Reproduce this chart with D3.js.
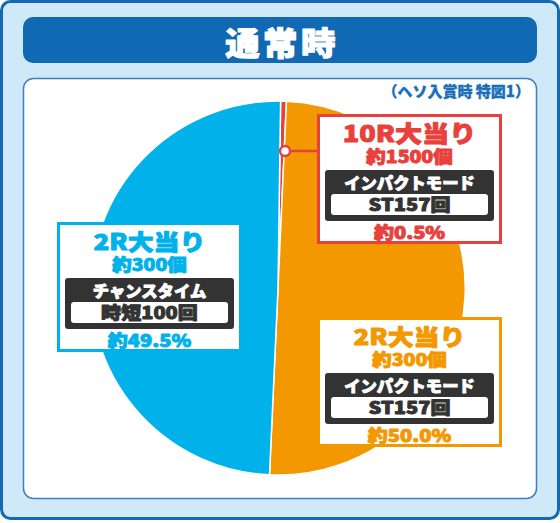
<!DOCTYPE html>
<html>
<head>
<meta charset="utf-8">
<script src="https://cdn.jsdelivr.net/npm/d3@7"></script>
<style>
  body { margin: 0; background: #fff; }
  svg { display: block; }
  text { font-family: "Noto Sans CJK JP", sans-serif; font-weight: 900; paint-order: stroke; stroke-linejoin: round; }
</style>
</head>
<body>
<div id="chart"></div>
<script>
// chart data
const title = "通常時";
const subtitle = "（ヘソ入賞時 特図1）";
const rounds = ["10R大当り", "2R大当り", "2R大当り"];
const balls = ["約1500個", "約300個", "約300個"];
const modes = ["インパクトモード", "インパクトモード", "チャンスタイム"];
const modeSpins = ["ST157回", "ST157回", "時短100回"];
const shares = [0.5, 50.0, 49.5];
const colors = ["#e8413c", "#f39800", "#00b2e9"];

// label box placement (top-left corners), kept apart from the data
const boxSpots = [[317, 114], [317, 317], [57, 222]];

function Chart(container) {
    const width = 560, height = 523;
    const cx = 278, cy = 288, radius = 187;
    const stretch = 1.18;

    const svg = d3.select(container).append("svg")
        .attr("width", width)
        .attr("height", height)
        .attr("viewBox", [0, 0, width, height]);

    // frame
    svg.append("rect")
        .attr("x", 1.5).attr("y", 1.5)
        .attr("width", 557).attr("height", 517)
        .attr("rx", 9)
        .style("fill", "#cfe9f8")
        .style("stroke", "#1668b3")
        .style("stroke-width", 3);

    svg.append("rect")
        .attr("x", 23).attr("y", 17)
        .attr("width", 514).attr("height", 46)
        .attr("rx", 10)
        .style("fill", "#1169b4");

    svg.append("text")
        .attr("transform", "translate(282,55) scale(1.08,1)")
        .style("fill", "white")
        .style("stroke", "white")
        .style("stroke-width", 1)
        .style("text-anchor", "middle")
        .style("font-size", "32px")
        .style("letter-spacing", "3px")
        .text(title);

    svg.append("rect")
        .attr("x", 23.5).attr("y", 78.5)
        .attr("width", 513).attr("height", 420)
        .attr("rx", 10)
        .style("fill", "white")
        .style("stroke", "#3f7ec6")
        .style("stroke-width", 1.5);

    svg.append("text")
        .attr("x", 530).attr("y", 97)
        .style("fill", "#1a6fba")
        .style("stroke", "#1a6fba")
        .style("stroke-width", 0.3)
        .style("text-anchor", "end")
        .style("font-size", "15px")
        .text(subtitle);

    // pie
    const start = 0.014;
    const pie = d3.pie().sort(null).startAngle(start).endAngle(start + 2 * Math.PI);
    const arcs = pie(shares);
    const arc = d3.arc().innerRadius(0).outerRadius(radius);

    const g = svg.append("g").attr("transform", `translate(${cx},${cy})`);
    g.selectAll("path")
        .data(arcs)
        .join("path")
        .attr("d", arc)
        .style("fill", (d, i) => colors[i])
        .style("stroke", "white")
        .style("stroke-width", 1.5);

    // connector for the thin slice
    const pin = d3.arc().innerRadius(137).outerRadius(137).centroid(arcs[0]);
    const px = cx + pin[0] + 3, py = cy + pin[1];
    svg.append("line")
        .attr("x1", px).attr("y1", py)
        .attr("x2", boxSpots[0][0] + 2).attr("y2", py)
        .style("stroke", colors[0])
        .style("stroke-width", 2.5);
    svg.append("circle")
        .attr("cx", px).attr("cy", py)
        .attr("r", 5)
        .style("fill", "white")
        .style("stroke", colors[0])
        .style("stroke-width", 2.5);

    function wideText(parent, x, y, size, color, str, sx) {
        parent.append("text")
            .attr("transform", `translate(${x},${y}) scale(${sx},1)`)
            .style("fill", color)
            .style("stroke", color)
            .style("stroke-width", 0.9)
            .style("text-anchor", "middle")
            .style("font-size", size + "px")
            .text(str);
    }

    // label boxes
    shares.forEach((v, i) => {
        const [bx, by] = boxSpots[i];
        const bw = 185, bh = 130;
        const mid = bx + bw / 2;
        const box = svg.append("g");

        box.append("rect")
            .attr("x", bx + 1.5).attr("y", by + 1.5)
            .attr("width", bw - 3).attr("height", bh - 3)
            .style("fill", "white")
            .style("stroke", colors[i])
            .style("stroke-width", 3);

        wideText(box, mid, by + 28, i === 0 ? 23 : 22, colors[i], rounds[i], stretch);
        wideText(box, mid, by + 49, 16.5, colors[i], balls[i], stretch);

        box.append("rect")
            .attr("x", bx + 8).attr("y", by + 56)
            .attr("width", bw - 16).attr("height", 51)
            .attr("rx", 3)
            .style("fill", "#333333");
        wideText(box, mid, by + 75, 16, "white", modes[i], 1.02);

        box.append("rect")
            .attr("x", bx + 14).attr("y", by + 80)
            .attr("width", bw - 28).attr("height", 21)
            .attr("rx", 3)
            .style("fill", "white");
        wideText(box, mid, by + 97, 17, "#333333", modeSpins[i], stretch);

        wideText(box, mid, by + 124.5, 17, colors[i], "約" + v.toFixed(1) + "%", stretch);
    });

    return svg;
}

Chart("#chart");
</script>
</body>
</html>
